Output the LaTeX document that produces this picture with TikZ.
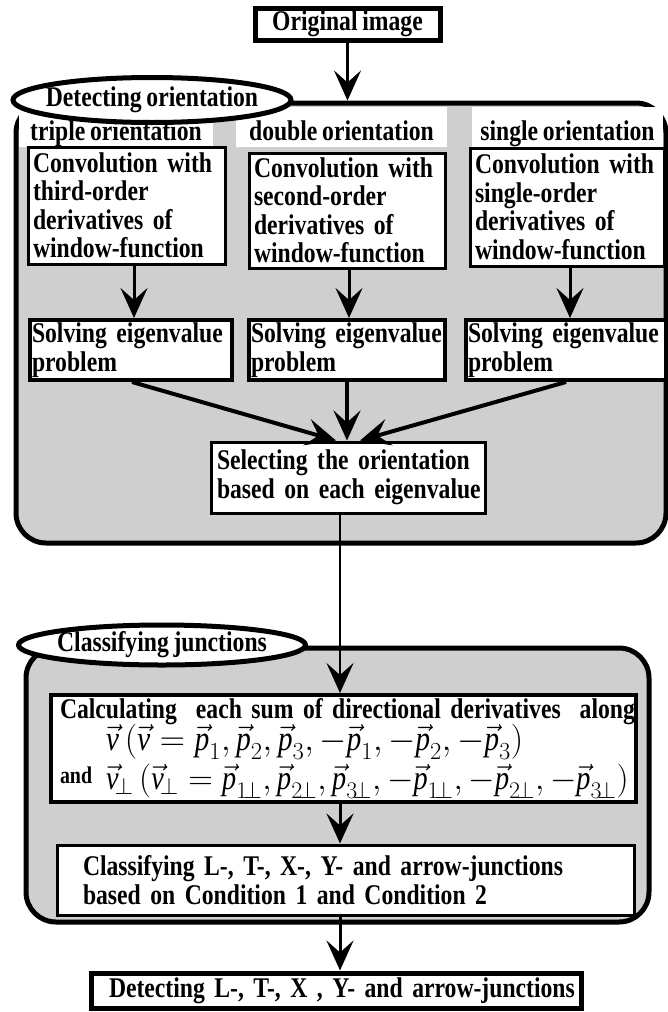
\RequirePackage{fix-cm}
\documentclass[tikz,border=0pt]{standalone}
\usepackage{fontspec}
\setmainfont{Liberation Serif}[FakeStretch=0.83, WordSpace=0.8]
\usetikzlibrary{arrows.meta,shapes.geometric}
\frenchspacing
\newcommand\txt{\fontsize{28.5}{28.5}\selectfont\bfseries}
\newcommand\mv[1]{\vec{\mbox{\normalfont\itshape #1}}}
\newcommand\li[1]{\mbox{#1}}
\newcommand\pp{\mkern-3mu\perp}
\begin{document}
\begin{tikzpicture}[x=1pt,y=-1pt,
  mypanel/.style={draw, line width=5pt, rounded corners=30pt, fill=black!19, rectangle, inner sep=0pt},
  myoval/.style={draw, line width=5pt, fill=white, ellipse, inner xsep=-60pt, inner ysep=-12pt, font=\txt},
  mylab/.style={fill=white, rectangle, inner sep=0pt, font=\txt, text height=33pt, text depth=7pt},
  mybox/.style={draw, line width=3pt, fill=white, rectangle, inner ysep=0pt, inner xsep=5pt, align=left, font=\txt},
  myheavy/.style={line width=5pt},
  myconn/.style={line width=3pt, -{Stealth[length=30pt,width=27pt,inset=12pt]}}]
\useasboundingbox (0,0) rectangle (667,1012);
% panels
\node[mypanel, minimum width=650pt, minimum height=440pt] (pan1) at (341,323) {};
\node[mypanel, minimum width=623pt, minimum height=274pt] (pan2) at (337.5,785) {};
% labels
\node[mylab, minimum width=194pt] (l1) at (116,127) {triple orientation};
\node[mylab, minimum width=211pt] (l2) at (341.5,127) {double orientation};
\node[mylab, minimum width=191pt] (l3) at (567.5,127) {single orientation};
% ovals
\node[myoval, minimum width=278pt, minimum height=45pt] (e1) at (152,100) {Detecting orientation};
\node[myoval, minimum width=287pt, minimum height=40pt] (e2) at (162,645) {Classifying junctions};
% boxes
\node[mybox, myheavy, minimum width=185pt, minimum height=32pt, align=center] (orig) at (347.5,24) {Original image};
\node[mybox, text width=187pt, minimum height=117pt] (cv1) at (126.5,205.5)
  {\li{Convolution with}\\ \li{third-order}\\ \li{derivatives of}\\ \li{window-function}};
\node[mybox, text width=186pt, minimum height=115pt] (cv2) at (347,210.5)
  {\li{Convolution with}\\ \li{second-order}\\ \li{derivatives of}\\ \li{window-function}};
\node[mybox, text width=184pt, minimum height=118pt] (cv3) at (567,207)
  {\li{Convolution with}\\ \li{single-order}\\ \li{derivatives of}\\ \li{window-function}};
\node[mybox, line width=4pt, inner xsep=2pt, text width=198pt, minimum height=60pt] (sv1) at (131,350)
  {\li{Solving eigenvalue}\\ \li{problem}};
\node[mybox, line width=4pt, inner xsep=2pt, text width=192pt, minimum height=60pt] (sv2) at (347,350)
  {\li{Solving eigenvalue}\\ \li{problem}};
\node[mybox, line width=4pt, inner xsep=2pt, text width=196pt, minimum height=60pt] (sv3) at (566,350)
  {\li{Solving eigenvalue}\\ \li{problem}};
\node[mybox, inner xsep=6pt, text width=262pt, minimum height=71pt] (sel) at (348,477.5)
  {\li{Selecting the orientation}\\ \li{based on each eigenvalue}};
\node[mybox, line width=4pt, inner xsep=9pt, text width=567pt, minimum height=107pt] (calc) at (343.5,748.5)
  {\li{Calculating\ \ each sum of directional derivatives\ \ along}\\[-2pt]
   \li{\fontsize{35}{35}\selectfont\makebox[46pt][l]{}$\mv{v}$\hspace{6pt}$(\mv{v}=\mv{p}_1,\mv{p}_2,\mv{p}_3,-\mv{p}_1,-\mv{p}_2,-\mv{p}_3)$}\\[4pt]
   \li{\fontsize{34}{34}\selectfont\makebox[46pt][l]{\fontsize{24}{24}\selectfont\raisebox{6pt}{and}}$\mv{v}_{\pp}\,(\mv{v}_{\pp}=\mv{p}_{1\pp},\mv{p}_{2\pp},\mv{p}_{3\pp},-\mv{p}_{1\pp},-\mv{p}_{2\pp},-\mv{p}_{3\pp})$}};
\node[mybox, inner xsep=26pt, text width=525pt, minimum height=70pt] (cls) at (345.5,880)
  {\li{Classifying L-, T-, X-, Y- and arrow-junctions}\\ \li{based on Condition 1 and Condition 2}};
\node[mybox, myheavy, inner xsep=18pt, text width=454pt, minimum height=35pt] (bot) at (336,990.5)
  {\li{Detecting L-, T-, X , Y- and arrow-junctions}};
% connectors
\draw[myconn] (orig.south) -- (orig.south |- pan1.north);
\draw[myconn] ([xshift=7.5pt]cv1.south) -- ([xshift=7.5pt]cv1.south |- sv1.north);
\draw[myconn] ([xshift=2pt]cv2.south) -- ([xshift=2pt]cv2.south |- sv2.north);
\draw[myconn] ([xshift=3pt]cv3.south) -- ([xshift=3pt]cv3.south |- sv3.north);
\draw[myconn, line width=4pt] ([xshift=1pt]sv1.south) -- ([xshift=-12pt]sel.north);
\draw[myconn, line width=4pt] (sv2.south) -- (sv2.south |- sel.north);
\draw[myconn, line width=4pt] (sv3.south) -- ([xshift=12pt]sel.north);
\draw[myconn, line width=2.5pt] ([xshift=-8pt]sel.south) -- ([xshift=-8pt]sel.south |- calc.north);
\draw[myconn] ([xshift=-3.5pt]calc.south) -- ([xshift=-3.5pt]calc.south |- cls.north);
\draw[myconn] ([xshift=-5.5pt]cls.south) -- ([xshift=-5.5pt]cls.south |- bot.north);
\end{tikzpicture}
\end{document}
